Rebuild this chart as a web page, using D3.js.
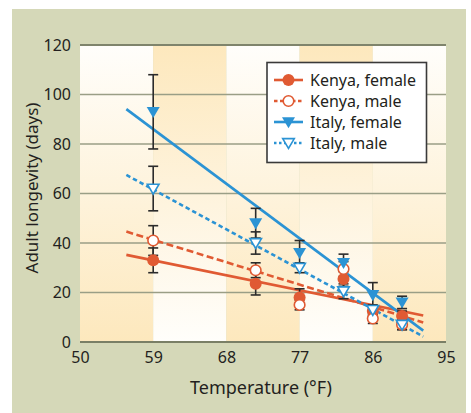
<!DOCTYPE html>
<html><head><meta charset="utf-8">
<script src="https://cdn.jsdelivr.net/npm/d3@7"></script>
<style>body{margin:0;background:#fff}svg{display:block}</style>
</head><body>
<script>
const temps = [59, 71.6, 77, 82.4, 86, 89.6];
const kenyaFemale = [33, 23.5, 18, 25.5, 12.5, 10.5];
const kenyaFemaleErr = [5, 4.5, 3.5, 3, 2, 2];
const kenyaMale = [41, 29, 15, 29.5, 9.5, 7];
const kenyaMaleErr = [6, 3, 2, 3, 2, 2];
const italyFemale = [93, 48, 36, 32, 19, 16];
const italyFemaleErr = [15, 6, 5, 3.5, 5, 2.5];
const italyMale = [62, 40, 30, 20.5, 13, 7];
const italyMaleErr = [9, 4.5, 2, 3, 2, 2];
const lineX = [55.7, 92.2];
const kenyaFemaleLine = [35.2, 10.7];
const kenyaMaleLine = [44.6, 7.9];
const italyFemaleLine = [94.1, 4.6];
const italyMaleLine = [67.5, 2.2];
const xTicks = [50, 59, 68, 77, 86, 95];
const yTicks = [0, 20, 40, 60, 80, 100, 120];
const seriesNames = ["Kenya, female", "Kenya, male", "Italy, female", "Italy, male"];

const W = 471, H = 413;
const orange = "#e05a33", blue = "#2b93d4";
const font = "'Noto Sans', 'Open Sans', sans-serif";
const series = [
  {name: seriesNames[0], v: kenyaFemale, e: kenyaFemaleErr, line: kenyaFemaleLine, color: orange, dash: null, shape: "circle", fill: true},
  {name: seriesNames[1], v: kenyaMale, e: kenyaMaleErr, line: kenyaMaleLine, color: orange, dash: "7,3.5", shape: "circle", fill: false},
  {name: seriesNames[2], v: italyFemale, e: italyFemaleErr, line: italyFemaleLine, color: blue, dash: null, shape: "tri", fill: true},
  {name: seriesNames[3], v: italyMale, e: italyMaleErr, line: italyMaleLine, color: blue, dash: "4.5,3", shape: "tri", fill: false}
];

const svg = d3.select("body").append("svg").attr("width", W).attr("height", H);
svg.append("rect").attr("x", 12).attr("y", 9).attr("width", 454).attr("height", 404).attr("fill", "#d5d8b8");

const x = d3.scaleLinear().domain([50, 95]).range([80, 446]);
const y = d3.scaleLinear().domain([0, 120]).range([342, 45]);

const defs = svg.append("defs");
const gDown = defs.append("linearGradient").attr("id", "gdown").attr("x1", 0).attr("y1", 0).attr("x2", 0).attr("y2", 1);
gDown.append("stop").attr("offset", "0%").attr("stop-color", "#fffefb");
gDown.append("stop").attr("offset", "100%").attr("stop-color", "#fde8bd");
const gUp = defs.append("linearGradient").attr("id", "gup").attr("x1", 0).attr("y1", 0).attr("x2", 0).attr("y2", 1);
gUp.append("stop").attr("offset", "0%").attr("stop-color", "#fde8bd");
gUp.append("stop").attr("offset", "100%").attr("stop-color", "#fffefb");

for (let i = 0; i < xTicks.length - 1; i++) {
  svg.append("rect").attr("x", x(xTicks[i])).attr("y", y(120))
    .attr("width", x(xTicks[i+1]) - x(xTicks[i])).attr("height", y(0) - y(120))
    .attr("fill", i % 2 === 0 ? "url(#gdown)" : "url(#gup)");
}

// gridlines
svg.append("g").selectAll("line").data(yTicks.filter(d => d > 0)).join("line")
  .attr("x1", x(50)).attr("x2", x(95)).attr("y1", d => y(d)).attr("y2", d => y(d))
  .attr("stroke", d => d === 120 ? "#7f846c" : "#9a9e86").attr("stroke-width", d => d === 120 ? 2 : 1.6);
svg.append("line").attr("x1", x(50)).attr("x2", x(95)).attr("y1", y(0)).attr("y2", y(0))
  .attr("stroke", "#7a7f66").attr("stroke-width", 2.2);

// axes labels via d3 axis
const xAxis = svg.append("g").attr("transform", `translate(0,${y(0)})`)
  .call(d3.axisBottom(x).tickValues(xTicks).tickSize(0).tickPadding(10));
xAxis.select(".domain").remove();
xAxis.selectAll("text").attr("font-family", font).attr("font-size", 16).attr("fill", "#231f20");
const yAxis = svg.append("g").attr("transform", `translate(${x(50)},0)`)
  .call(d3.axisLeft(y).tickValues(yTicks).tickSize(0).tickPadding(9));
yAxis.select(".domain").remove();
yAxis.selectAll("text").attr("font-family", font).attr("font-size", 16).attr("fill", "#231f20");

svg.append("text").attr("x", 261).attr("y", 394).attr("text-anchor", "middle")
  .attr("font-family", font).attr("font-size", 18).attr("fill", "#231f20").text("Temperature (°F)");
svg.append("text").attr("transform", "translate(38,188) rotate(-90)").attr("text-anchor", "middle")
  .attr("font-family", font).attr("font-size", 17).attr("fill", "#231f20").text("Adult longevity (days)");

// regression lines
series.forEach(s => {
  svg.append("line").attr("x1", x(lineX[0])).attr("x2", x(lineX[1]))
    .attr("y1", y(s.line[0])).attr("y2", y(s.line[1]))
    .attr("stroke", s.color).attr("stroke-width", 2.6)
    .attr("stroke-dasharray", s.dash);
});

// error bars
const eg = svg.append("g").attr("stroke", "#2b2b2b").attr("stroke-width", 1.6);
series.forEach(s => {
  temps.forEach((t, i) => {
    const cx = x(t), top = y(s.v[i] + s.e[i]), bot = y(s.v[i] - s.e[i]);
    eg.append("line").attr("x1", cx).attr("x2", cx).attr("y1", top).attr("y2", bot);
    eg.append("line").attr("x1", cx - 5).attr("x2", cx + 5).attr("y1", top).attr("y2", top);
    eg.append("line").attr("x1", cx - 5).attr("x2", cx + 5).attr("y1", bot).attr("y2", bot);
  });
});

const triPath = (cx, cy, r) => `M${cx - r},${cy - r * 0.75}L${cx + r},${cy - r * 0.75}L${cx},${cy + r * 0.95}Z`;
function marker(g, s, cx, cy) {
  if (s.shape === "circle") {
    g.append("circle").attr("cx", cx).attr("cy", cy).attr("r", s.fill ? 6 : 5.3)
      .attr("fill", s.fill ? s.color : "#fff").attr("stroke", s.color).attr("stroke-width", s.fill ? 0 : 1.6);
  } else {
    g.append("path").attr("d", triPath(cx, cy, s.fill ? 6.5 : 5.8))
      .attr("fill", s.fill ? s.color : "#fff").attr("stroke", s.color).attr("stroke-width", s.fill ? 0 : 1.6);
  }
}
const mg = svg.append("g");
series.forEach(s => temps.forEach((t, i) => marker(mg, s, x(t), y(s.v[i]))));

// legend
const lg = svg.append("g");
lg.append("rect").attr("x", 267).attr("y", 62.5).attr("width", 159.5).attr("height", 100)
  .attr("fill", "#fff").attr("stroke", "#3a3a3a").attr("stroke-width", 1.6);
series.forEach((s, i) => {
  const ly = 80 + i * 21;
  lg.append("line").attr("x1", 274).attr("x2", 303).attr("y1", ly).attr("y2", ly)
    .attr("stroke", s.color).attr("stroke-width", 2.6).attr("stroke-dasharray", s.dash ? (s.shape === "circle" ? "3.5,2.5" : "2.5,2.5") : null);
  marker(lg, s, 288.5, ly);
  lg.append("text").attr("x", 310).attr("y", ly + 5.5).attr("font-family", font).attr("font-size", 16)
    .attr("fill", "#231f20").text(s.name);
});
</script>
</body></html>
